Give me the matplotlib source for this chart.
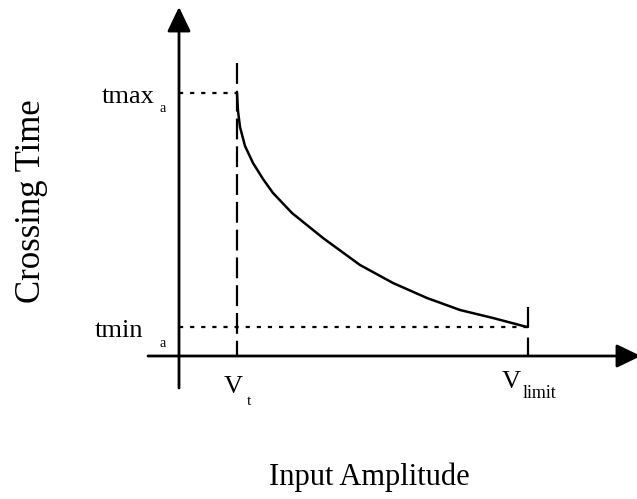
import matplotlib
matplotlib.use("Agg")
import matplotlib.pyplot as plt

plt.rcParams['font.family'] = ['Liberation Serif', 'DejaVu Serif']
plt.rcParams['lines.scale_dashes'] = False

# Schematic values (arbitrary units, origin at the axes crossing)
v_t = 0.58
v_limit = 3.49
t_max = 2.63
t_min = 0.29
v_t_top = 2.93
v_limit_top = 0.49

# Crossing time curve
amplitude = [0.58, 0.59, 0.61, 0.66, 0.74, 0.84, 0.94, 1.13, 1.44, 1.81,
             2.14, 2.48, 2.81, 3.14, 3.48]
crossing = [2.63, 2.45, 2.29, 2.10, 1.93, 1.77, 1.63, 1.43, 1.18, 0.91,
            0.73, 0.58, 0.46, 0.38, 0.29]

fig = plt.figure(figsize=(6.37, 4.99), dpi=100)
ax = fig.add_axes([0, 0, 1, 1])
ax.set_xlim(-1.79, 4.58)
ax.set_ylim(-1.43, 3.56)
ax.axis('off')

# axes with arrow heads
arrow = dict(arrowstyle='-|>,head_length=0.75,head_width=0.36',
             mutation_scale=20, lw=2.0, color='black',
             shrinkA=0, shrinkB=0)
ax.annotate('', xy=(0, 3.49), xytext=(0, -0.32), arrowprops=arrow,
            annotation_clip=False)
ax.annotate('', xy=(4.62, 0), xytext=(-0.31, 0), arrowprops=arrow,
            annotation_clip=False)

# guide lines (drawn top-down so the dash pattern starts at the top)
ax.plot([v_t, v_t], [v_t_top, 0], color='black', lw=1.6, dashes=(15, 5))
ax.plot([v_limit, v_limit], [v_limit_top, 0], color='black', lw=1.6,
        dashes=(15, 7))
ax.plot([0, v_t], [t_max, t_max], color='black', lw=1.6, dashes=(3, 5))
ax.plot([0, v_limit], [t_min, t_min], color='black', lw=1.6, dashes=(3, 5))

# curve
ax.plot(amplitude, crossing, color='black', lw=1.8, solid_capstyle='round')

# labels
ax.text(-0.77, 2.53, 'tmax', fontsize=19, ha='left', va='baseline')
ax.text(-0.20, 2.44, 'a', fontsize=10, ha='left', va='baseline')
ax.text(-0.84, 0.19, 'tmin', fontsize=19, ha='left', va='baseline')
ax.text(-0.19, 0.09, 'a', fontsize=10, ha='left', va='baseline')

ax.text(0.45, -0.37, 'V', fontsize=19, ha='left', va='baseline')
ax.text(0.68, -0.49, 't', fontsize=11, ha='left', va='baseline')
ax.text(3.23, -0.32, 'V', fontsize=19, ha='left', va='baseline')
ax.text(3.44, -0.42, 'limit', fontsize=13, ha='left', va='baseline')

ax.text(-1.47, 1.55, 'Crossing Time', fontsize=25, rotation=90,
        ha='center', va='center')
ax.text(1.90, -1.29, 'Input Amplitude', fontsize=22, ha='center',
        va='baseline')

fig.savefig('out.png', dpi=100)
